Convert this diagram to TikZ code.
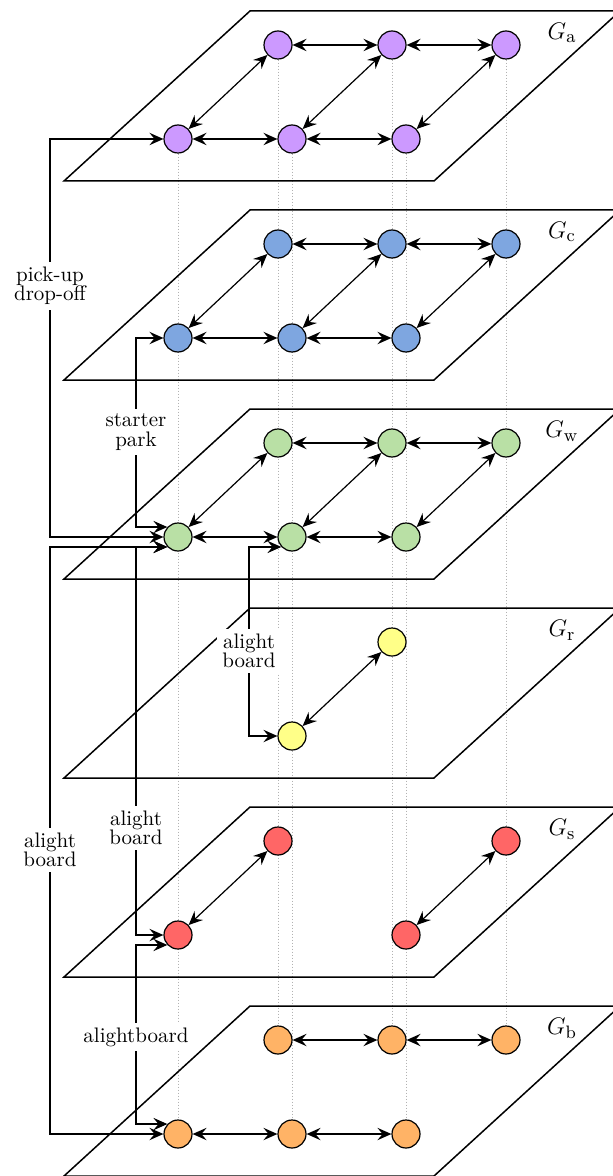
\documentclass[tikz,border=0pt]{standalone}
\usetikzlibrary{arrows.meta,backgrounds}
\definecolor{cpurple}{HTML}{CC99FF}
\definecolor{cblue}{HTML}{7EA6E0}
\definecolor{cgreen}{HTML}{B9E0A5}
\definecolor{cyellow}{HTML}{FFFF88}
\definecolor{cred}{HTML}{FF6666}
\definecolor{corange}{HTML}{FFB366}
\begin{document}
\begin{tikzpicture}[x=0.5pt,y=-0.5pt,
  vert/.style={circle,draw,line width=0.6pt,minimum size=14pt,inner sep=0pt},
  plane/.style={draw,line width=0.75pt,line join=miter},
  link/.style={<->,line width=0.6pt},
  guide/.style={black!30,densely dotted,line width=0.5pt},
  lbl/.style={fill=white,align=center,font=\fontsize{10.5}{9.6}\selectfont,inner sep=2.5pt},
  glabel/.style={font=\fontsize{13}{15}\selectfont},
  >={Stealth[length=7pt,width=6.2pt,inset=2.6pt]}]
\useasboundingbox (0,0) rectangle (613,1176);
\clip (0,0) rectangle (613,1176);

% planes
\foreach \k in {0,...,5}{
  \draw[plane] (64,{181+199*\k}) -- (434,{181+199*\k}) -- (620,{11+199*\k}) -- (250,{11+199*\k}) -- cycle;
}

% layer labels
\node[glabel] (gla) at (562,33) {$G_{\mathrm{a}}$};
\node[glabel] (glc) at (562,232) {$G_{\mathrm{c}}$};
\node[glabel] (glw) at (562,431) {$G_{\mathrm{w}}$};
\node[glabel] (glr) at (562,630) {$G_{\mathrm{r}}$};
\node[glabel] (gls) at (562,829) {$G_{\mathrm{s}}$};
\node[glabel] (glb) at (562,1028) {$G_{\mathrm{b}}$};

% G_a
\node[vert,fill=cpurple] (aF1) at (178,139) {};
\node[vert,fill=cpurple] (aF2) at (292,139) {};
\node[vert,fill=cpurple] (aF3) at (406,139) {};
\node[vert,fill=cpurple] (aB1) at (278,45) {};
\node[vert,fill=cpurple] (aB2) at (392,45) {};
\node[vert,fill=cpurple] (aB3) at (506,45) {};
% G_c
\node[vert,fill=cblue] (cF1) at (178,338) {};
\node[vert,fill=cblue] (cF2) at (292,338) {};
\node[vert,fill=cblue] (cF3) at (406,338) {};
\node[vert,fill=cblue] (cB1) at (278,244) {};
\node[vert,fill=cblue] (cB2) at (392,244) {};
\node[vert,fill=cblue] (cB3) at (506,244) {};
% G_w
\node[vert,fill=cgreen] (wF1) at (178,537) {};
\node[vert,fill=cgreen] (wF2) at (292,537) {};
\node[vert,fill=cgreen] (wF3) at (406,537) {};
\node[vert,fill=cgreen] (wB1) at (278,443) {};
\node[vert,fill=cgreen] (wB2) at (392,443) {};
\node[vert,fill=cgreen] (wB3) at (506,443) {};
% G_r
\node[vert,fill=cyellow] (rF2) at (292,736) {};
\node[vert,fill=cyellow] (rB2) at (392,642) {};
% G_s
\node[vert,fill=cred] (sF1) at (178,935) {};
\node[vert,fill=cred] (sF3) at (406,935) {};
\node[vert,fill=cred] (sB1) at (278,841) {};
\node[vert,fill=cred] (sB3) at (506,841) {};
% G_b
\node[vert,fill=corange] (bF1) at (178,1134) {};
\node[vert,fill=corange] (bF2) at (292,1134) {};
\node[vert,fill=corange] (bF3) at (406,1134) {};
\node[vert,fill=corange] (bB1) at (278,1040) {};
\node[vert,fill=corange] (bB2) at (392,1040) {};
\node[vert,fill=corange] (bB3) at (506,1040) {};

% vertical guides
\begin{scope}[on background layer]
  \draw[guide] (aF1.south) -- (bF1.north);
  \draw[guide] (aF2.south) -- (bF2.north);
  \draw[guide] (aF3.south) -- (bF3.north);
  \draw[guide] (aB1.south) -- (bB1.north);
  \draw[guide] (aB2.south) -- (bB2.north);
  \draw[guide] (aB3.south) -- (bB3.north);
\end{scope}

% in-layer links
\foreach \L in {a,c,w}{
  \draw[link] (\L F1) -- (\L F2);
  \draw[link] (\L F2) -- (\L F3);
  \draw[link] (\L B1) -- (\L B2);
  \draw[link] (\L B2) -- (\L B3);
  \draw[link] (\L F1) -- (\L B1);
  \draw[link] (\L F2) -- (\L B2);
  \draw[link] (\L F3) -- (\L B3);
}
\draw[link] (rF2) -- (rB2);
\draw[link] (sF1) -- (sB1);
\draw[link] (sF3) -- (sB3);
\draw[link] (bF1) -- (bF2);
\draw[link] (bF2) -- (bF3);
\draw[link] (bB1) -- (bB2);
\draw[link] (bB2) -- (bB3);

% lanes
\coordinate (laneA) at (50,0);
\coordinate (laneB) at (136,0);
\coordinate (laneC) at (249,0);

% inter-layer links
\draw[link] (aF1.west) -- (laneA |- aF1.west) -- (laneA |- wF1.west) -- (wF1.west);
\draw[link] (cF1.west) -- (laneB |- cF1.west) -- (laneB |- wF1.137) -- (wF1.137);
\draw[link] (wF1.223) -- (laneA |- wF1.223) -- (laneA |- bF1.west) -- (bF1.west);
\draw[link] (wF1.223) -- (laneB |- wF1.223) -- (laneB |- sF1.west) -- (sF1.west);
\draw[link] (sF1.223) -- (laneB |- sF1.223) -- (laneB |- bF1.137) -- (bF1.137);
\draw[link] (wF2.223) -- (laneC |- wF2.223) -- (laneC |- rF2.west) -- (rF2.west);

% connector labels
\node[lbl] (t1) at (50,286) {pick-up\\drop-off};
\node[lbl] (t2) at (136,432) {starter\\park};
\node[lbl] (t3) at (249,651) {alight\\board};
\node[lbl] (t4) at (136,828) {alight\\board};
\node[lbl] (t5) at (50,850) {alight\\board};
\node[lbl] (t6) at (136,1037) {alightboard};
\end{tikzpicture}
\end{document}
